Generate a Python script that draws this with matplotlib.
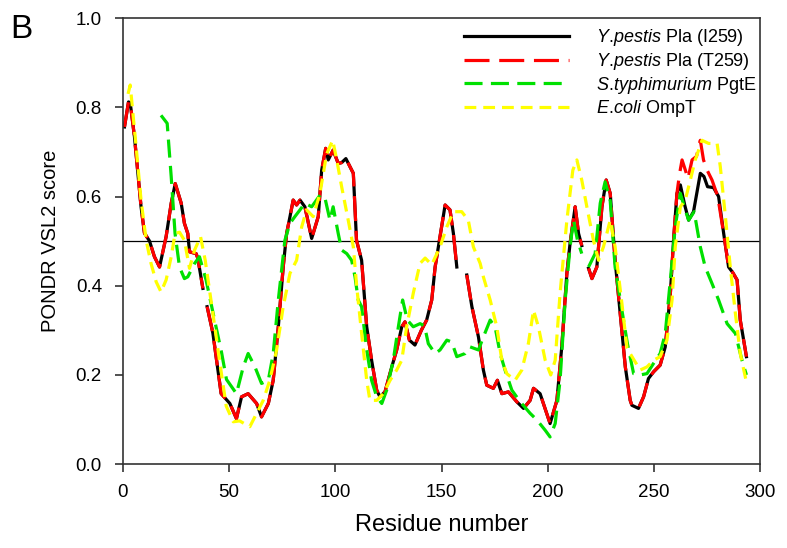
"""PONDR VSL2 disorder profiles for Pla and its homologues."""

import matplotlib
matplotlib.use("Agg")
import matplotlib.pyplot as plt
import numpy as np

plt.rcParams["font.family"] = ["Liberation Sans", "DejaVu Sans"]
plt.rcParams["mathtext.fontset"] = "custom"
plt.rcParams["mathtext.rm"] = "Liberation Sans"
plt.rcParams["mathtext.it"] = "Liberation Sans:italic"
plt.rcParams["lines.scale_dashes"] = False

nan = np.nan

# Y. pestis Pla, shared part (residue, score); nan marks a break in the trace
pla_head_res = [0.8, 2.7, 3.5, 5.5, 8.6, 10.2, 12.6, 14.9, 17.3, 20.4, 22.8, 24.7, 27.5, 29, 30.6,
                31.4, 34.5, 35.3, 37.7, 38.7, 39.7, 42.4, 46.3, 50.4, 53.5, 55.9, 59, 63, 65.3,
                68.5, 70.8, 73.2, 75.5, 77.1, 78.7, 80.2, 81.8, 83.4, 85.7, 88.9, 92, 93.6, 95.5,
                96.7, 99, 101.4, 103, 105, 106.9, 108.5, 110, 112.4, 114.8, 117.1, 119.5, 121,
                123.4, 126.6, 128.9, 131.3, 132.8, 134.9, 137.5, 140.5, 143, 145.4, 147, 149.3,
                151.7, 154, 155.6, 157.2, 159, 161.9, 164.3, 167.4, 169.7, 171.3, 174.4, 176.3,
                178.4, 181.5, 185.4, 188.6, 191.7, 193.3, 196.4, 201.1, 204.3, 206.6, 209, 210.5,
                212.9, 214.5, 216, 217.5, 219.2, 220.8, 223.1, 225.5, 227.5, 229.4, 231.7, 234.1,
                236.5, 238.8, 239.6, 242.7, 245.1, 247.4, 249.8, 252.9, 255.3, 257.7, 259.2, 260.8]
pla_head_val = [0.756, 0.812, 0.81, 0.734, 0.577, 0.518, 0.50, 0.465, 0.442, 0.51, 0.585, 0.629,
                0.585, 0.54, 0.517, 0.476, 0.472, 0.462, 0.394, nan, 0.353, 0.294, 0.158, 0.136,
                0.102, 0.151, 0.158, 0.136, 0.106, 0.136, 0.188, 0.308, 0.442, 0.517, 0.555,
                0.592, 0.581, 0.592, 0.577, 0.506, 0.555, 0.659, 0.708, 0.682, 0.704, 0.674,
                0.676, 0.685, 0.667, 0.652, 0.502, 0.457, 0.308, 0.233, 0.166, 0.151, 0.162,
                0.218, 0.256, 0.308, 0.319, 0.278, 0.267, 0.30, 0.323, 0.368, 0.442, 0.51, 0.581,
                0.57, 0.517, 0.442, nan, 0.424, 0.353, 0.285, 0.211, 0.177, 0.17, 0.188, 0.158,
                0.162, 0.14, 0.125, 0.143, 0.17, 0.158, 0.091, 0.143, 0.263, 0.428, 0.495, 0.577,
                0.517, 0.49, nan, 0.439, 0.416, 0.442, 0.577, 0.637, 0.607, 0.457, 0.338, 0.218,
                0.143, 0.132, 0.125, 0.151, 0.192, 0.207, 0.222, 0.263, 0.383, 0.502, 0.607]
pla_tail_res = [282.8, 285.1, 287, 289.1, 290.6, 293.5]
pla_tail_val = [0.517, 0.442, 0.43, 0.413, 0.323, 0.241]

# the two Pla variants differ only around residue 259
i259_mid_res = [262.4, 264.5, 266.3, 268.6, 271.8, 273.5, 275.2, 278, 280.4]
i259_mid_val = [0.626, 0.58, 0.547, 0.566, 0.652, 0.645, 0.622, 0.62, 0.60]
t259_mid_res = [262, 263.2, 264.7, 266, 267.9, 270, 271.8, 273.3, 275, 277.3, 280]
t259_mid_val = [0.65, 0.682, 0.66, 0.64, 0.682, 0.69, 0.726, 0.682, 0.659, 0.637, 0.60]

# S. typhimurium PgtE
pgte_res = [18, 20.9, 22.8, 24.6, 26.7, 29, 30.6, 33.8, 36.1, 39.2, 43.2, 46.5, 48.8, 53.5, 56.7,
            59, 62.2, 65.3, 68.5, 70.8, 73.2, 76.3, 78.7, 81, 83.4, 85.7, 88.9, 92.8, 95, 97.5,
            99, 101.4, 103, 105.4, 107.7, 109.3, 110.8, 112.4, 114.8, 117.1, 119.5, 121.9, 124.2,
            127.3, 129.7, 131.7, 133.9, 136.7, 139.9, 142, 143.8, 147, 149.3, 152.5, 154.8, 157.2,
            161.1, 163.4, 167.4, 169.7, 172.9, 175.2, 177.6, 179.9, 183.1, 187, 191.7, 194.9,
            198.8, 201.1, 203.5, 205.8, 208.2, 210.5, 212.1, 214, 216, 217.5, 219.2, 222.3,
            224.7, 227, 229.4, 231.7, 234.9, 237.5, 240.4, 243.5, 246.7, 249.8, 252.9, 255.3,
            257.7, 260, 262.4, 264.7, 266.3, 268.9, 271.8, 274.1, 277.3, 280.4, 284.4, 288.3,
            291.4, 293.5]
pgte_val = [0.782, 0.764, 0.644, 0.517, 0.442, 0.416, 0.42, 0.45, 0.465, 0.413, 0.323, 0.25,
            0.19, 0.158, 0.218, 0.248, 0.218, 0.181, 0.188, 0.248, 0.368, 0.502, 0.54, 0.555,
            0.57, 0.585, 0.577, 0.603, 0.6, 0.547, 0.577, 0.517, 0.48, 0.472, 0.457, 0.42, 0.368,
            0.353, 0.256, 0.188, 0.151, 0.136, 0.166, 0.233, 0.308, 0.368, 0.323, 0.308, 0.315,
            0.31, 0.27, 0.248, 0.256, 0.278, 0.274, 0.241, 0.248, 0.263, 0.256, 0.285, 0.323,
            0.308, 0.248, 0.211, 0.166, 0.14, 0.114, 0.099, 0.076, 0.061, 0.091, 0.188, 0.368,
            0.487, 0.547, 0.502, 0.472, nan, 0.442, 0.472, 0.585, 0.633, 0.59, 0.442, 0.345,
            0.27, 0.203, 0.2, 0.203, 0.226, 0.248, 0.293, 0.413, 0.532, 0.607, 0.57, 0.547,
            0.566, 0.487, 0.442, 0.405, 0.368, 0.315, 0.293, 0.233, 0.2]

# E. coli OmpT
ompt_res = [2.5, 3.5, 6.3, 8.6, 11, 13.3, 15.7, 18, 20.4, 22.8, 24.6, 26.7, 29, 31.4, 33.8, 36.6,
            38.8, 42.4, 45.5, 48.7, 52, 55, 57.5, 59.8, 63, 66.1, 69.2, 72.4, 75.5, 78.7, 81.8,
            84.2, 86.5, 89.6, 92.8, 95.9, 98.8, 100.7, 103, 106.1, 108.5, 110.1, 112.4, 114.8,
            116.3, 119.5, 122.6, 125.8, 128.9, 131.3, 133.6, 136.7, 139.9, 142.3, 145.4, 149.3,
            152.5, 155.6, 159.5, 162.6, 165, 168.2, 169.7, 172.9, 176, 178.4, 180.7, 184.6,
            187.8, 190.9, 193.3, 195.6, 198.8, 201.4, 203.5, 205.8, 209, 211.8, 213.7, 216,
            218.4, 221.5, 223.9, 226.2, 229.4, 231.7, 234.9, 237.3, 240.4, 243.5, 246.7, 249.8,
            252.9, 256.1, 258.5, 260, 262.4, 264.7, 267.1, 269.4, 272.6, 275.7, 279.7, 281.2,
            283.6, 285.9, 288.3, 290.6, 293.8]
ompt_val = [0.83, 0.85, 0.711, 0.592, 0.502, 0.45, 0.409, 0.386, 0.413, 0.465, 0.517, 0.52,
            0.502, 0.439, 0.48, 0.51, 0.457, 0.338, 0.233, 0.13, 0.095, 0.097, 0.09, 0.084,
            0.114, 0.143, 0.188, 0.256, 0.353, 0.428, 0.457, 0.532, 0.57, 0.555, 0.607, 0.695,
            0.726, 0.682, 0.622, 0.547, 0.487, 0.398, 0.293, 0.188, 0.143, 0.143, 0.158, 0.188,
            0.211, 0.233, 0.308, 0.383, 0.45, 0.462, 0.447, 0.487, 0.532, 0.566, 0.566, 0.547,
            0.487, 0.45, 0.42, 0.368, 0.308, 0.233, 0.203, 0.188, 0.211, 0.271, 0.345, 0.308,
            0.233, 0.2, 0.233, 0.383, 0.547, 0.659, 0.682, 0.637, 0.577, 0.502, 0.457, 0.487,
            0.547, 0.487, 0.36, 0.26, 0.235, 0.211, 0.218, 0.233, 0.241, 0.278, 0.368, 0.487,
            0.577, 0.592, 0.637, 0.682, 0.726, 0.719, 0.719, 0.667, 0.555, 0.442, 0.338, 0.248,
            0.177]

threshold = 0.5

i259_res = pla_head_res + i259_mid_res + pla_tail_res
i259_val = pla_head_val + i259_mid_val + pla_tail_val
t259_res = pla_head_res + t259_mid_res + pla_tail_res
t259_val = pla_head_val + t259_mid_val + pla_tail_val

fig = plt.figure(figsize=(7.87, 5.48), dpi=100)
ax = fig.add_axes([0.156, 0.153, 0.81, 0.814])

lw = 2.3
ax.plot(i259_res, i259_val, color="black", lw=lw, label=r"$\it{Y}$.$\it{pestis}$ Pla (I259)")
ax.plot(t259_res, t259_val, color="#ff0000", lw=lw, dashes=(18, 7),
        label=r"$\it{Y}$.$\it{pestis}$ Pla (T259)")
ax.plot(pgte_res, pgte_val, color="#00e000", lw=lw, dashes=(13, 6),
        label=r"$\it{S}$.$\it{typhimurium}$ PgtE")
ax.plot(ompt_res, ompt_val, color="#ffff00", lw=lw, dashes=(8.5, 5),
        label=r"$\it{E}$.$\it{coli}$ OmpT")
ax.axhline(threshold, color="black", lw=0.9, zorder=1)

ax.set_xlim(0, 300)
ax.set_ylim(0, 1.0)
ax.set_xticks(np.arange(0, 301, 50))
ax.set_yticks(np.arange(0, 1.01, 0.2))
ax.yaxis.set_major_formatter(lambda v, pos: f"{v:.1f}")
ax.tick_params(direction="out", length=6, width=1.2, labelsize=13.5, color="#333333")
ax.tick_params(axis="x", pad=8)
ax.tick_params(axis="y", pad=9)
for side in ax.spines.values():
    side.set_color("#333333")
    side.set_linewidth(1.2)

ax.set_xlabel("Residue number", fontsize=17, labelpad=10)
ax.set_ylabel("PONDR VSL2 score", fontsize=14.5, labelpad=11)

ax.legend(loc="upper right", bbox_to_anchor=(1.008, 1.0), frameon=False, fontsize=13,
          handlelength=5.8, handletextpad=1.5, labelspacing=0.15, borderaxespad=0.1)

fig.text(0.013, 0.975, "B", fontsize=24, ha="left", va="top")

fig.savefig("out.png", dpi=100)
